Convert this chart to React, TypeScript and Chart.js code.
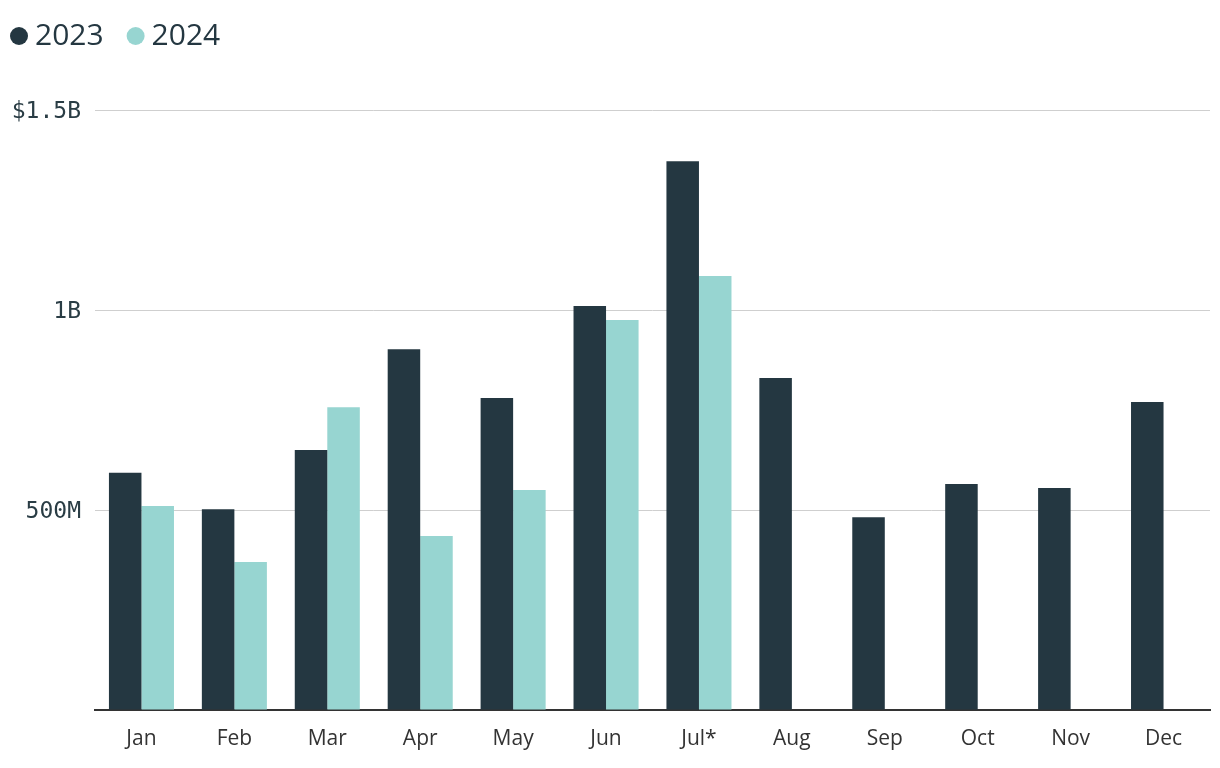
import React, { useEffect, useRef } from "react";
import { Chart, registerables } from "chart.js";

Chart.register(...registerables);

const categories = ["Jan", "Feb", "Mar", "Apr", "May", "Jun", "Jul*", "Aug", "Sep", "Oct", "Nov", "Dec"];
const values2023 = [593, 502, 650, 902, 780, 1010, 1372, 830, 482, 565, 555, 770];
const values2024 = [510, 370, 757, 435, 550, 975, 1085, null, null, null, null, null];
const seriesLabels = ["2023", "2024"];
const seriesColors = ["#243741", "#97d5d1"];
const yTickLabels: Record<number, string> = { 0: "", 500: "500M", 1000: "1B", 1500: "$1.5B" };

const legendPlugin = {
  id: "customLegend",
  afterDraw(chart: any) {
    const ctx = chart.ctx;
    ctx.save();
    ctx.font = "30px 'Open Sans'";
    ctx.textBaseline = "middle";
    let x = 10;
    const cy = 36;
    chart.data.datasets.forEach((ds: any) => {
      ctx.fillStyle = ds.backgroundColor;
      ctx.beginPath();
      ctx.arc(x + 9, cy, 9, 0, Math.PI * 2);
      ctx.fill();
      ctx.fillStyle = "#243741";
      ctx.fillText(ds.label, x + 25, cy);
      x += 25 + ctx.measureText(ds.label).width + 23;
    });
    ctx.restore();
  },
};

export default function App() {
  const ref = useRef<HTMLCanvasElement>(null);
  useEffect(() => {
    const chart = new Chart(ref.current!, {
      type: "bar",
      data: {
        labels: categories,
        datasets: [
          { label: seriesLabels[0], data: values2023, backgroundColor: seriesColors[0] },
          { label: seriesLabels[1], data: values2024 as any, backgroundColor: seriesColors[1] },
        ],
      },
      options: {
        animation: false,
        responsive: false,
        maintainAspectRatio: false,
        layout: { padding: { top: 110, right: 10, bottom: 10, left: 0 } },
        plugins: { legend: { display: false }, tooltip: { enabled: false } },
        datasets: { bar: { categoryPercentage: 0.7, barPercentage: 1 } },
        scales: {
          x: {
            grid: { display: false, drawTicks: false },
            border: { display: true, color: "#333333", width: 2 },
            ticks: { color: "#333333", font: { family: "'Open Sans'", size: 21 }, padding: 16 },
            afterFit: (s: any) => { s.height = 48; },
          },
          y: {
            min: 0,
            max: 1500,
            grid: { color: "#cfcfcf", lineWidth: 1, drawTicks: false },
            border: { display: false },
            ticks: {
              stepSize: 500,
              color: "#2a3d45",
              font: { family: "'DejaVu Sans Mono'", size: 23 },
              padding: 14,
              labelOffset: 2,
              callback: (v: any) => yTickLabels[v as number] ?? "",
            },
            afterFit: (s: any) => { s.width = 95; },
          },
        },
      },
      plugins: [legendPlugin],
    });
    return () => chart.destroy();
  }, []);
  return (
    <div style={{ position: "absolute", left: 0, top: 0, width: 1220, height: 768 }}>
      <canvas ref={ref} width={1220} height={768} />
    </div>
  );
}
